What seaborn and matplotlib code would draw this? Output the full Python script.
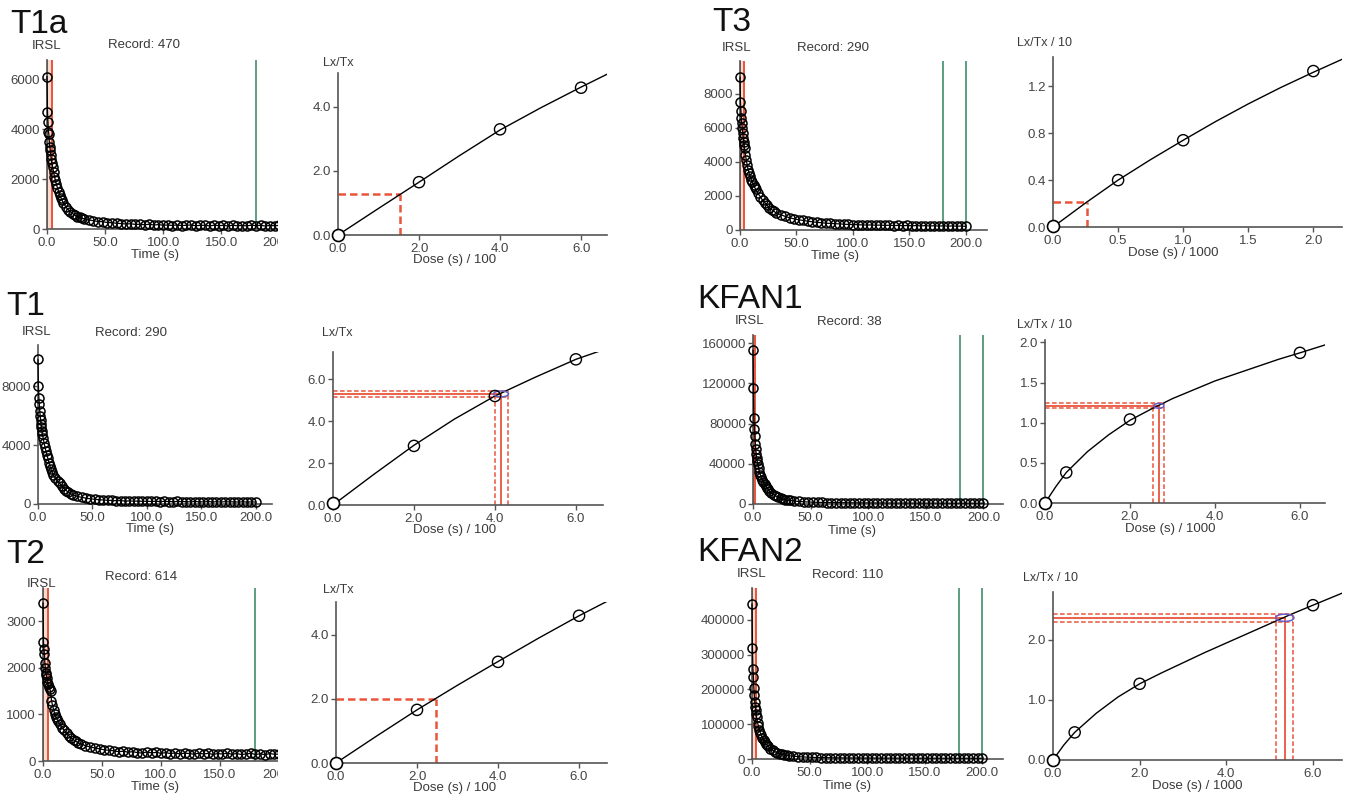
import matplotlib
matplotlib.use("Agg")
import matplotlib.pyplot as plt
import seaborn as sns
import pandas as pd
from matplotlib.patches import Rectangle, Ellipse

W, H = 1351, 800

# ---------------- data ----------------
TIME_S = [0, 0.4, 0.8, 1.2, 1.6, 2.0, 2.4, 2.8, 3.2, 3.6,
          4.0, 4.8, 5.6, 6.4, 7.2, 8, 9, 10, 11, 12,
          13, 14, 16, 18, 20, 22, 24, 26, 28, 30,
          32, 36, 40, 44, 48, 52, 56, 60, 64, 68,
          72, 76, 80, 84, 88, 92, 96, 100, 104, 108,
          112, 116, 120, 124, 128, 132, 136, 140, 144, 148,
          152, 156, 160, 164, 168, 172, 176, 180, 184, 188,
          192, 196, 200]

T1A_COUNTS = [6100, 4700, 4300, 3900, 3800, 3500, 3300, 3150, 2950, 2800,
              2650, 2500, 2300, 2100, 1950, 1800, 1650, 1500, 1350, 1250,
              1150, 1050, 900, 780, 700, 620, 560, 500, 470, 430,
              410, 360, 330, 300, 290, 260, 250, 230, 215, 200,
              210, 185, 190, 170, 190, 160, 175, 150, 160, 140,
              165, 135, 150, 160, 130, 145, 150, 125, 150, 135,
              145, 120, 150, 130, 140, 125, 150, 135, 145, 120,
              140, 130, 145]
T1_COUNTS = [9800, 8000, 7200, 6800, 6300, 6000, 5700, 5400, 5200, 4950,
             4750, 4450, 4150, 3850, 3600, 3350, 3100, 2800, 2550, 2350,
             2150, 2000, 1750, 1550, 1400, 1200, 1050, 900, 800, 700,
             620, 520, 450, 400, 350, 320, 290, 270, 250, 240,
             220, 230, 200, 210, 190, 200, 180, 190, 170, 185,
             160, 175, 165, 150, 170, 155, 160, 145, 165, 150,
             140, 160, 145, 150, 135, 155, 140, 150, 130, 145,
             135, 140, 130]
T2_COUNTS = [3400, 2550, 2400, 2300, 2100, 2000, 1900, 1850, 1780, 1700,
             1650, 1600, 1550, 1500, 1300, 1200, 1100, 1000, 950, 900,
             850, 800, 720, 660, 600, 540, 490, 450, 420, 390,
             370, 330, 300, 280, 260, 240, 230, 220, 200, 210,
             190, 200, 180, 170, 195, 175, 185, 165, 180, 160,
             175, 150, 170, 160, 145, 170, 150, 165, 140, 160,
             150, 170, 145, 160, 140, 150, 165, 140, 155, 135,
             160, 145, 150]
T3_COUNTS = [9000, 7500, 7000, 6600, 6300, 6000, 5700, 5400, 5200, 5000,
             4800, 4400, 4100, 3800, 3550, 3350, 3150, 2950, 2800, 2650,
             2500, 2400, 2150, 1950, 1750, 1600, 1450, 1300, 1200, 1100,
             1000, 900, 800, 720, 650, 600, 560, 520, 480, 450,
             430, 400, 390, 370, 360, 340, 330, 320, 310, 300,
             290, 300, 280, 290, 270, 280, 260, 270, 250, 265,
             245, 260, 240, 255, 235, 250, 230, 245, 225, 240,
             220, 235, 210]
KFAN1_COUNTS = [153000, 115000, 85000, 75000, 68000, 60000, 55000, 50000, 46000, 43000,
                40000, 36000, 32000, 29000, 26500, 24000, 21500, 19500, 17500, 16000,
                14500, 13000, 11000, 9200, 7800, 6700, 5800, 5000, 4400, 3900,
                3500, 2900, 2500, 2200, 2000, 1800, 1650, 1550, 1450, 1400,
                1350, 1300, 1250, 1200, 1180, 1150, 1120, 1100, 1080, 1050,
                1030, 1010, 1000, 980, 970, 950, 940, 930, 920, 910,
                900, 890, 880, 870, 860, 850, 840, 835, 830, 820,
                815, 810, 800]
KFAN2_COUNTS = [446000, 320000, 260000, 236000, 205000, 184000, 165000, 150000, 140000, 130000,
                121000, 105000, 94000, 84000, 76000, 69000, 61000, 55000, 49000, 44000,
                40000, 36000, 30000, 25000, 21000, 18000, 15500, 13500, 12000, 10500,
                9500, 8000, 6800, 6000, 5300, 4800, 4400, 4100, 3800, 3600,
                3400, 3300, 3200, 3100, 3000, 2950, 2900, 2850, 2800, 2750,
                2700, 2650, 2600, 2580, 2550, 2520, 2500, 2480, 2450, 2430,
                2400, 2380, 2360, 2340, 2320, 2300, 2280, 2260, 2250, 2240,
                2230, 2220, 2200]

# growth curves
T1A_DOSE = [0, 2, 4, 6]
T1A_LXTX = [0, 1.65, 3.3, 4.6]
T1A_FIT_DOSE = [0, 1, 2, 3, 4, 5, 6, 6.64]
T1A_FIT = [0, 0.83, 1.65, 2.48, 3.28, 3.97, 4.62, 5.02]

T1_DOSE = [0, 2, 4, 6]
T1_LXTX = [0.1, 2.82, 5.2, 6.95]
T1_FIT_DOSE = [0, 1, 2, 3, 4, 5, 6, 6.67]
T1_FIT = [0, 1.45, 2.85, 4.1, 5.2, 6.1, 6.95, 7.4]

T2_DOSE = [0, 2, 4, 6]
T2_LXTX = [0, 1.66, 3.16, 4.6]
T2_FIT_DOSE = [0, 1, 2, 3, 4, 5, 6, 6.69]
T2_FIT = [0, 0.84, 1.66, 2.43, 3.17, 3.9, 4.6, 5.05]

T3_DOSE = [0, 0.5, 1.0, 2.0]
T3_LXTX = [0.01, 0.40, 0.74, 1.33]
T3_FIT_DOSE = [0, 0.25, 0.5, 0.75, 1.0, 1.25, 1.5, 1.75, 2.0, 2.22]
T3_FIT = [0, 0.205, 0.40, 0.575, 0.74, 0.90, 1.05, 1.19, 1.32, 1.43]

KFAN1_DOSE = [0, 0.5, 2.0, 6.0]
KFAN1_LXTX = [0, 0.38, 1.04, 1.87]
KFAN1_FIT_DOSE = [0, 0.25, 0.5, 1.0, 1.5, 2.0, 2.5, 3.0, 3.5, 4.0, 4.5, 5.0, 5.5, 6.0, 6.6]
KFAN1_FIT = [0, 0.2, 0.38, 0.64, 0.85, 1.03, 1.17, 1.3, 1.41, 1.52, 1.61, 1.7, 1.79, 1.87, 1.97]

KFAN2_DOSE = [0, 0.5, 2.0, 6.0]
KFAN2_LXTX = [0, 0.46, 1.27, 2.58]
KFAN2_FIT_DOSE = [0, 0.25, 0.5, 1.0, 1.5, 2.0, 2.5, 3.0, 3.5, 4.0, 4.5, 5.0, 5.5, 6.0, 6.67]
KFAN2_FIT = [0, 0.25, 0.46, 0.78, 1.05, 1.27, 1.45, 1.62, 1.79, 1.95, 2.11, 2.27, 2.43, 2.58, 2.78]

# equivalent dose readouts: (De, De_lo, De_hi, Ln, Ln_lo, Ln_hi)
T1A_DE = (1.52, None, None, 1.27, None, None)
T1_DE = (4.15, 4.0, 4.32, 5.3, 5.15, 5.43)
T2_DE = (2.47, None, None, 2.0, None, None)
T3_DE = (0.26, None, None, 0.215, None, None)
KFAN1_DE = (2.68, 2.55, 2.8, 1.21, 1.18, 1.24)
KFAN2_DE = (5.35, 5.15, 5.55, 2.37, 2.30, 2.44)

# ---------------- style ----------------
sns.set_style("ticks")
plt.rcParams['font.family'] = ['Liberation Sans', 'DejaVu Sans']

RED = '#e8553a'
RED_FILL = '#f7b9a5'
GREEN = '#5e9e7e'
AX_COL = '#555555'
TXT = '#3a3a3a'

fig = plt.figure(figsize=(W / 100, H / 100), dpi=100)
fig.patch.set_facecolor('white')


def add_ax(x0, yt, x1, yb, xlim, ylim):
    ax = fig.add_axes([x0 / W, 1 - yb / H, (x1 - x0) / W, (yb - yt) / H])
    ax.set_xlim(*xlim)
    ax.set_ylim(*ylim)
    ax.patch.set_alpha(0)
    for s in ['top', 'right']:
        ax.spines[s].set_visible(False)
    for s in ['left', 'bottom']:
        ax.spines[s].set_color(AX_COL)
        ax.spines[s].set_linewidth(1.2)
    ax.tick_params(length=3.5, width=1, color=AX_COL, labelsize=9.5,
                   labelcolor='#444444', pad=1.5)
    ax.tick_params(axis='x', pad=2)
    return ax


def ftext(x, y, s, **kw):
    kw.setdefault('color', TXT)
    kw.setdefault('fontsize', 9.5)
    fig.text(x / W, 1 - y / H, s, **kw)


def decay(box, xlim, ylim, counts, yticks, red=None, greens=()):
    ax = add_ax(*box, xlim, ylim)
    if red is not None:
        ax.axvspan(red[0], red[1], color=RED_FILL, alpha=0.5, lw=0, zorder=1)
        ax.axvline(red[0], color=RED, lw=1.4, zorder=1)
        ax.axvline(red[1], color=RED, lw=1.4, zorder=1)
    for g in greens:
        ax.axvline(g, color=GREEN, lw=1.4, zorder=1)
    sns.lineplot(x=TIME_S, y=counts, ax=ax, color='black', lw=0.9,
                 marker='o', markersize=6.5, markerfacecolor='none',
                 markeredgecolor='black', markeredgewidth=1.1,
                 estimator=None, clip_on=False, zorder=3)
    ax.set_xticks([0, 50, 100, 150, 200])
    ax.set_xticklabels(['0.0', '50.0', '100.0', '150.0', '200.0'])
    ax.set_yticks(yticks)
    ax.set_yticklabels([str(v) for v in yticks])
    ax.set_xlabel('')
    ax.set_ylabel('')
    return ax


def growth(box, xlim, ylim, dose, lx, fdose, fit, de, xticks, xfmt, yticks, yfmt,
           ellipse=None):
    ax = add_ax(*box, xlim, ylim)
    De, De_lo, De_hi, Ln, Ln_lo, Ln_hi = de
    dash = (0, (3, 1.6))
    if De_lo is None:
        ax.plot([0, De], [Ln, Ln], color=RED, lw=1.8, ls=dash, zorder=2)
        ax.plot([De, De], [0, Ln], color=RED, lw=1.8, ls=dash, zorder=2)
    else:
        ax.plot([0, De], [Ln, Ln], color=RED, lw=1.3, zorder=2)
        ax.plot([De, De], [0, Ln], color=RED, lw=1.3, zorder=2)
        for l in (Ln_lo, Ln_hi):
            ax.plot([0, De_hi], [l, l], color=RED, lw=1.1, ls=dash, zorder=2)
        for d in (De_lo, De_hi):
            ax.plot([d, d], [0, Ln_hi], color=RED, lw=1.1, ls=dash, zorder=2)
    if ellipse is not None:
        ax.add_patch(Ellipse((De, Ln), ellipse[0], ellipse[1], fill=False,
                             ec='#6a5cc4', lw=1.1, zorder=4))
    sns.lineplot(x=fdose, y=fit, ax=ax, color='black', lw=1.0,
                 estimator=None, sort=False, zorder=3)
    sns.scatterplot(x=dose[1:], y=lx[1:], ax=ax, marker='o', s=65,
                    facecolor='none', edgecolor='black', linewidth=1.0,
                    zorder=4, clip_on=False)
    sns.scatterplot(x=dose[:1], y=lx[:1], ax=ax, marker='o', s=75,
                    facecolor='white', edgecolor='black', linewidth=1.2,
                    zorder=5, clip_on=False)
    ax.set_xticks(xticks)
    ax.set_xticklabels([xfmt.format(v) for v in xticks])
    ax.set_yticks(yticks)
    ax.set_yticklabels([yfmt.format(v) for v in yticks])
    ax.set_xlabel('')
    ax.set_ylabel('')
    return ax


# ---------------- left column ----------------
decay((47, 60, 285, 229), (0, 205), (0, 6760), T1A_COUNTS, [0, 2000, 4000, 6000],
      red=(0, 4.3), greens=(180,))
growth((338, 73, 607, 235), (0, 6.64), (0, 5.06), T1A_DOSE, T1A_LXTX,
       T1A_FIT_DOSE, T1A_FIT, T1A_DE, [0, 2, 4, 6], '{:.1f}', [0, 2, 4], '{:.1f}')

decay((38, 345, 272, 504), (0, 215), (0, 10780), T1_COUNTS, [0, 4000, 8000])
growth((333, 352, 603, 505), (0, 6.67), (0, 7.3), T1_DOSE, T1_LXTX,
       T1_FIT_DOSE, T1_FIT, T1_DE, [0, 2, 4, 6], '{:.1f}', [0, 2, 4, 6], '{:.1f}',
       ellipse=(0.37, 0.28))

decay((43, 588, 285, 761), (0, 205), (0, 3720), T2_COUNTS, [0, 1000, 2000, 3000],
      red=(0, 4.2), greens=(180,))
growth((336, 602, 607, 763), (0, 6.69), (0, 5.03), T2_DOSE, T2_LXTX,
       T2_FIT_DOSE, T2_FIT, T2_DE, [0, 2, 4, 6], '{:.1f}', [0, 2, 4], '{:.1f}')

# ---------------- right column ----------------
decay((740, 61, 987, 230), (0, 218.6), (0, 9940), T3_COUNTS,
      [0, 2000, 4000, 6000, 8000], red=(0, 3.5), greens=(180, 200))
growth((1053, 57, 1342, 227), (0, 2.22), (0, 1.45), T3_DOSE, T3_LXTX,
       T3_FIT_DOSE, T3_FIT, T3_DE, [0, 0.5, 1.0, 1.5, 2.0], '{:.1f}',
       [0, 0.4, 0.8, 1.2], '{:.1f}')

decay((753, 335, 1003, 504), (0, 217), (0, 168000), KFAN1_COUNTS,
      [0, 40000, 80000, 120000, 160000], red=(0, 1.5), greens=(180, 200))
growth((1045, 340, 1325, 503), (0, 6.59), (0, 2.03), KFAN1_DOSE, KFAN1_LXTX,
       KFAN1_FIT_DOSE, KFAN1_FIT, KFAN1_DE, [0, 2, 4, 6], '{:.1f}',
       [0, 0.5, 1.0, 1.5, 2.0], '{:.1f}', ellipse=(0.24, 0.06))

decay((752, 588, 1003, 759), (0, 218), (0, 492000), KFAN2_COUNTS,
      [0, 100000, 200000, 300000, 400000], red=(0, 3.5), greens=(180, 200))
growth((1053, 592, 1342, 760), (0, 6.67), (0, 2.8), KFAN2_DOSE, KFAN2_LXTX,
       KFAN2_FIT_DOSE, KFAN2_FIT, KFAN2_DE, [0, 2, 4, 6], '{:.1f}',
       [0, 1, 2], '{:.1f}', ellipse=(0.42, 0.12))

# white masks cropping the left decay panels (as in the composite)
for (yt, yb) in [(40, 262), (575, 798)]:
    fig.add_artist(Rectangle((278 / W, 1 - yb / H), 22 / W, (yb - yt) / H,
                             transform=fig.transFigure, facecolor='white',
                             edgecolor='none', zorder=10))

# ---------------- texts ----------------
TITLE_KW = dict(fontsize=24, color='#111111', va='top', ha='left')
ftext(10, 9, 'T1a', **TITLE_KW)
ftext(6, 291, 'T1', **TITLE_KW)
ftext(6, 539, 'T2', **TITLE_KW)
ftext(712, 7, 'T3', **TITLE_KW)
ftext(697, 284, 'KFAN1', **TITLE_KW)
ftext(697, 537, 'KFAN2', **TITLE_KW)

for x, y in [(47, 46), (37, 332), (42, 584), (737, 48), (750, 321), (752, 574)]:
    ftext(x, y, 'IRSL', ha='center', va='center')

for x, y, s in [(108, 45, 'Record: 470'), (95, 333, 'Record: 290'),
                (105, 577, 'Record: 614'), (797, 48, 'Record: 290'),
                (817, 322, 'Record: 38'), (812, 575, 'Record: 110')]:
    ftext(x, y, s, ha='left', va='center')

for x, y in [(155, 255), (150, 529), (155, 787), (835, 256), (852, 531), (847, 786)]:
    ftext(x, y, 'Time (s)', ha='center', va='center')

for x, y in [(338, 63), (337, 333), (338, 590)]:
    ftext(x, y, 'Lx/Tx', ha='center', va='center', fontsize=9)
for x, y in [(1017, 43), (1017, 325), (1023, 578)]:
    ftext(x, y, 'Lx/Tx / 10', ha='left', va='center', fontsize=9)

for x, y in [(455, 260), (455, 530), (455, 788)]:
    ftext(x, y, 'Dose (s) / 100', ha='center', va='center')
for x, y in [(1173, 253), (1170, 529), (1197, 786)]:
    ftext(x, y, 'Dose (s) / 1000', ha='center', va='center')

fig.savefig('out.png', dpi=100, facecolor='white')
